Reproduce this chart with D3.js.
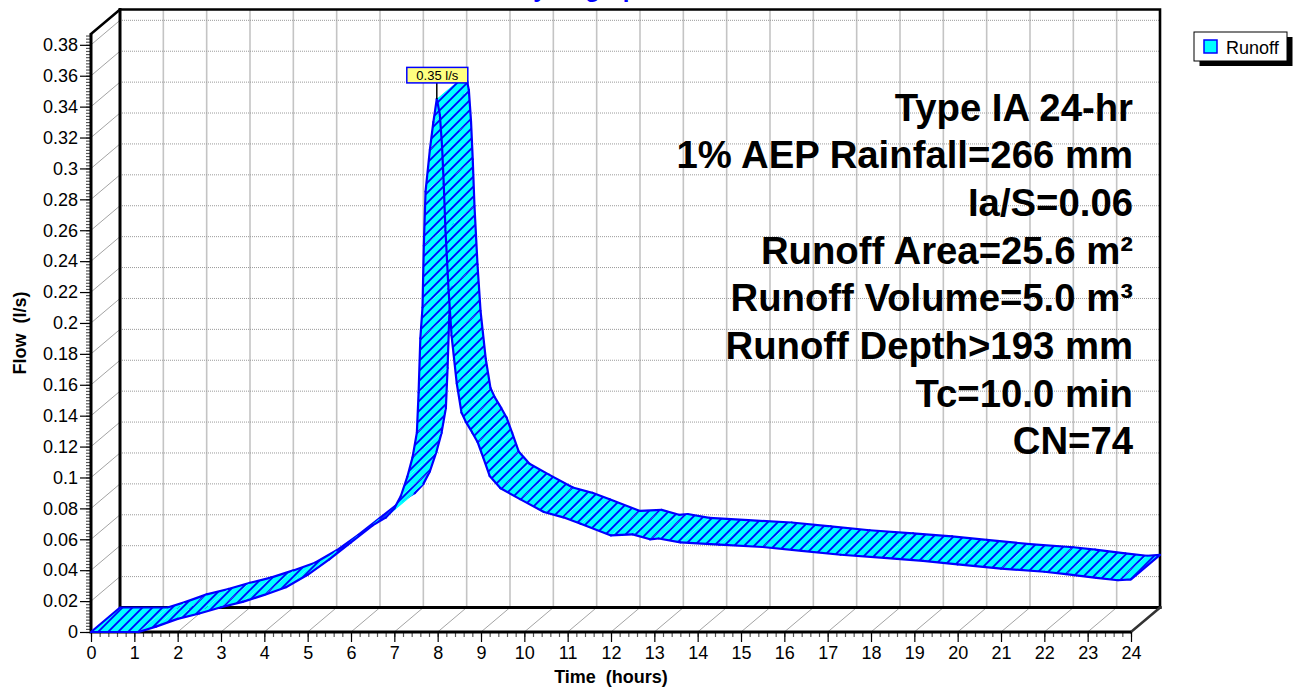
<!DOCTYPE html>
<html>
<head>
<meta charset="utf-8">
<script src="https://cdn.jsdelivr.net/npm/d3@7"></script>
<style>
  body { margin: 0; background: #fff; }
  svg { display: block; font-family: "Liberation Sans", Arial, sans-serif; }
</style>
</head>
<body>
<div id="chart"></div>
<script>
// hydrograph (front edge of the ribbon)
const hours = [0, 1.1, 1.5, 2.0, 2.5, 3.0, 3.5, 4.0, 4.5, 5.0, 5.5, 6.0, 6.5, 6.8, 7.0, 7.15,
  7.3, 7.42, 7.52, 7.56, 7.6, 7.65, 7.68, 7.72, 7.82, 7.9, 7.98, 8.05, 8.1, 8.14, 8.18, 8.25,
  8.32, 8.44, 8.55, 8.65, 8.8, 8.92, 9.05, 9.2, 9.45, 9.9, 10.45, 10.9, 11.3, 12.0, 12.5,
  12.9, 13.1, 13.6, 14.5, 15.5, 16.4, 17.3, 18.3, 19.2, 20.0, 21.0, 22.0, 22.5, 23.2, 23.7, 24.0];
const flow = [0, 0, 0.0035, 0.0085, 0.012, 0.016, 0.0195, 0.024, 0.029, 0.037, 0.047, 0.058, 0.069, 0.074, 0.080, 0.088,
  0.1005, 0.113, 0.129, 0.155, 0.19, 0.21, 0.25, 0.285, 0.312, 0.33, 0.345, 0.335, 0.315, 0.29, 0.26, 0.222,
  0.192, 0.161, 0.142, 0.136, 0.129, 0.123, 0.113, 0.101, 0.093, 0.086, 0.0777, 0.0742, 0.070, 0.0625, 0.0632,
  0.060, 0.0605, 0.058, 0.0565, 0.055, 0.0525, 0.050, 0.048, 0.046, 0.0438, 0.041, 0.039, 0.0375, 0.035, 0.0335, 0.034];

const hourTicks = d3.range(0, 25);
const flowTicks = [0, 0.02, 0.04, 0.06, 0.08, 0.1, 0.12, 0.14, 0.16, 0.18, 0.2, 0.22, 0.24, 0.26, 0.28, 0.3, 0.32, 0.34, 0.36, 0.38];

const infoLines = [
  'Type IA 24-hr',
  '1% AEP Rainfall=266 mm',
  'Ia/S=0.06',
  'Runoff Area=25.6 m²',
  'Runoff Volume=5.0 m³',
  'Runoff Depth>193 mm',
  'Tc=10.0 min',
  'CN=74'
];
const peakText = '0.35 l/s';
const seriesName = 'Runoff';

const width = 1294;
const height = 687;
const depth = { dx: 29, dy: -24.5 };

const x = d3.scaleLinear().domain([0, 24]).range([91, 1131]);
const y = d3.scaleLinear().domain([0, 0.387]).range([632, 34]);

const svg = d3.select('#chart')
  .append('svg')
  .attr('width', width)
  .attr('height', height);

const defs = svg.append('defs');
const hatch = defs.append('pattern')
  .attr('id', 'hatch')
  .attr('patternUnits', 'userSpaceOnUse')
  .attr('width', 10)
  .attr('height', 10);
hatch.append('rect').attr('width', 10).attr('height', 10).attr('fill', '#00ffff');
hatch.append('path')
  .attr('d', 'M-1,1 L1,-1 M0,10 L10,0 M9,11 L11,9')
  .attr('stroke', '#0000ff')
  .attr('stroke-width', 1.8);

// title, cut by the top edge as in the original
svg.append('text')
  .attr('x', 584)
  .attr('y', -3)
  .attr('text-anchor', 'middle')
  .attr('font-size', 24)
  .attr('font-weight', 'bold')
  .attr('fill', '#0000ff')
  .text('Hydrograph');

const x0 = x(0), x1 = x(24), yb = y(0), yt = y(0.387);

// back wall grid
const grid = svg.append('g');
grid.selectAll('.vgrid')
  .data(hourTicks.filter(h => h > 0 && h < 24))
  .join('line')
  .attr('x1', d => x(d) + depth.dx)
  .attr('x2', d => x(d) + depth.dx)
  .attr('y1', yt + depth.dy)
  .attr('y2', yb + depth.dy)
  .attr('stroke', '#c4c4c4')
  .attr('stroke-width', 1.6);
grid.selectAll('.hgrid')
  .data(flowTicks.filter(v => v > 0))
  .join('line')
  .attr('x1', x0 + depth.dx)
  .attr('x2', x1 + depth.dx)
  .attr('y1', d => y(d) + depth.dy)
  .attr('y2', d => y(d) + depth.dy)
  .attr('stroke', '#9a9a9a')
  .attr('stroke-width', 1)
  .attr('stroke-dasharray', '1,1');

// floor and left wall diagonals
grid.selectAll('.floor')
  .data(hourTicks.filter(h => h > 0 && h < 24))
  .join('line')
  .attr('x1', d => x(d)).attr('y1', yb)
  .attr('x2', d => x(d) + depth.dx).attr('y2', yb + depth.dy)
  .attr('stroke', '#8c8c8c')
  .attr('stroke-width', 0.8);
grid.selectAll('.wall')
  .data(flowTicks.filter(v => v > 0))
  .join('line')
  .attr('x1', x0).attr('y1', d => y(d))
  .attr('x2', x0 + depth.dx).attr('y2', d => y(d) + depth.dy)
  .attr('stroke', '#8c8c8c')
  .attr('stroke-width', 0.8);

// box edges
const edges = svg.append('g').attr('fill', 'none').attr('stroke-linecap', 'square');
edges.append('path')
  .attr('d', `M${x0},${yt} L${x0 + depth.dx},${yt + depth.dy} L${x1 + depth.dx},${yt + depth.dy} L${x1 + depth.dx},${yb + depth.dy}`)
  .attr('stroke', '#000').attr('stroke-width', 2.6);
edges.append('path')
  .attr('d', `M${x0 + depth.dx},${yt + depth.dy} L${x0 + depth.dx},${yb + depth.dy} L${x1 + depth.dx},${yb + depth.dy}`)
  .attr('stroke', '#000').attr('stroke-width', 3);
edges.append('path')
  .attr('d', `M${x1},${yb} L${x1 + depth.dx},${yb + depth.dy}`)
  .attr('stroke', '#333').attr('stroke-width', 2.6);

// axes
const yAxis = svg.append('g').attr('transform', `translate(${x0},0)`);
yAxis.call(d3.axisLeft(y).tickValues(d3.range(0, 0.3861, 0.002)).tickSize(5).tickFormat(''));
yAxis.call(g => g.selectAll('.tick line').attr('stroke', '#555'));
const yAxisMajor = svg.append('g').attr('transform', `translate(${x0},0)`);
yAxisMajor.call(d3.axisLeft(y).tickValues(flowTicks).tickSize(11).tickPadding(2)
  .tickFormat(d => String(+d.toFixed(2))));

const xAxis = svg.append('g').attr('transform', `translate(0,${yb})`);
xAxis.call(d3.axisBottom(x).tickValues(d3.range(0, 24.01, 0.2)).tickSize(5).tickFormat(''));
xAxis.call(g => g.selectAll('.tick line').attr('stroke', '#555'));
const xAxisMajor = svg.append('g').attr('transform', `translate(0,${yb})`);
xAxisMajor.call(d3.axisBottom(x).tickValues(hourTicks).tickSize(10).tickPadding(4));

svg.selectAll('.domain').remove();
svg.selectAll('.tick text').attr('font-size', 18).attr('fill', '#000')
  .attr('font-family', '"Liberation Sans", Arial, sans-serif');
svg.selectAll('.tick line').attr('stroke-width', 1.2);

svg.append('path')
  .attr('d', `M${x0},${yt} L${x0},${yb} L${x1},${yb}`)
  .attr('fill', 'none')
  .attr('stroke', '#000')
  .attr('stroke-width', 3);

// axis titles
svg.append('text')
  .attr('transform', `translate(26,${(yb + yt) / 2}) rotate(-90)`)
  .attr('text-anchor', 'middle')
  .attr('font-size', 18)
  .attr('font-weight', 'bold')
  .attr('xml:space', 'preserve')
  .text('Flow  (l/s)');
svg.append('text')
  .attr('x', x(12))
  .attr('y', 683)
  .attr('text-anchor', 'middle')
  .attr('font-size', 18)
  .attr('font-weight', 'bold')
  .attr('xml:space', 'preserve')
  .text('Time  (hours)');

// 3D ribbon, one slab per time step, drawn in time order
const front = hours.map((h, i) => [x(h), y(flow[i])]);
const back = front.map(([px, py]) => [px + depth.dx, py + depth.dy]);
const ribbon = svg.append('g')
  .attr('stroke', '#0000ff')
  .attr('stroke-width', 2.2)
  .attr('stroke-linejoin', 'round')
  .attr('stroke-linecap', 'round');

for (let i = 0; i < front.length - 1; i++) {
  const a = front[i], b = front[i + 1], c = back[i + 1], d = back[i];
  ribbon.append('path')
    .attr('d', `M${a}L${b}L${c}L${d}Z`)
    .attr('fill', 'url(#hatch)')
    .attr('stroke', 'none');
  let outline = `M${a}L${b}M${d}L${c}`;
  if (i === 0) outline += `M${a}L${d}`;
  if (i === front.length - 2) outline += `M${b}L${c}`;
  ribbon.append('path').attr('d', outline).attr('fill', 'none');
}

// info block
svg.append('g')
  .selectAll('text')
  .data(infoLines)
  .join('text')
  .attr('x', 1133)
  .attr('y', (d, i) => 120.5 + i * 47.7)
  .attr('text-anchor', 'end')
  .attr('font-size', 38.3)
  .attr('font-weight', 'bold')
  .text(d => d);

// legend
const legend = svg.append('g').attr('transform', 'translate(1194,32)');
legend.append('rect').attr('x', 5.5).attr('y', 5).attr('width', 93).attr('height', 29).attr('fill', '#000');
legend.append('rect').attr('width', 93).attr('height', 29).attr('fill', '#fff').attr('stroke', '#000').attr('stroke-width', 1);
legend.append('rect').attr('x', 10).attr('y', 8).attr('width', 13).attr('height', 13)
  .attr('fill', '#00ffff').attr('stroke', '#0000ff').attr('stroke-width', 1.5);
legend.append('text').attr('x', 32).attr('y', 22).attr('font-size', 18).text(seriesName);

// peak callout
const peakIndex = d3.maxIndex(flow);
const px = x(hours[peakIndex]);
const py = y(flow[peakIndex]);
svg.append('line')
  .attr('x1', px).attr('x2', px)
  .attr('y1', py - 16).attr('y2', py)
  .attr('stroke', '#000').attr('stroke-width', 1.5);
svg.append('rect')
  .attr('x', px - 30).attr('y', py - 31.5)
  .attr('width', 61).attr('height', 15.5)
  .attr('fill', '#ffff80')
  .attr('stroke', '#0000ff')
  .attr('stroke-width', 1.5);
svg.append('text')
  .attr('x', px + 0.5).attr('y', py - 19)
  .attr('text-anchor', 'middle')
  .attr('font-size', 13)
  .text(peakText);
</script>
</body>
</html>
